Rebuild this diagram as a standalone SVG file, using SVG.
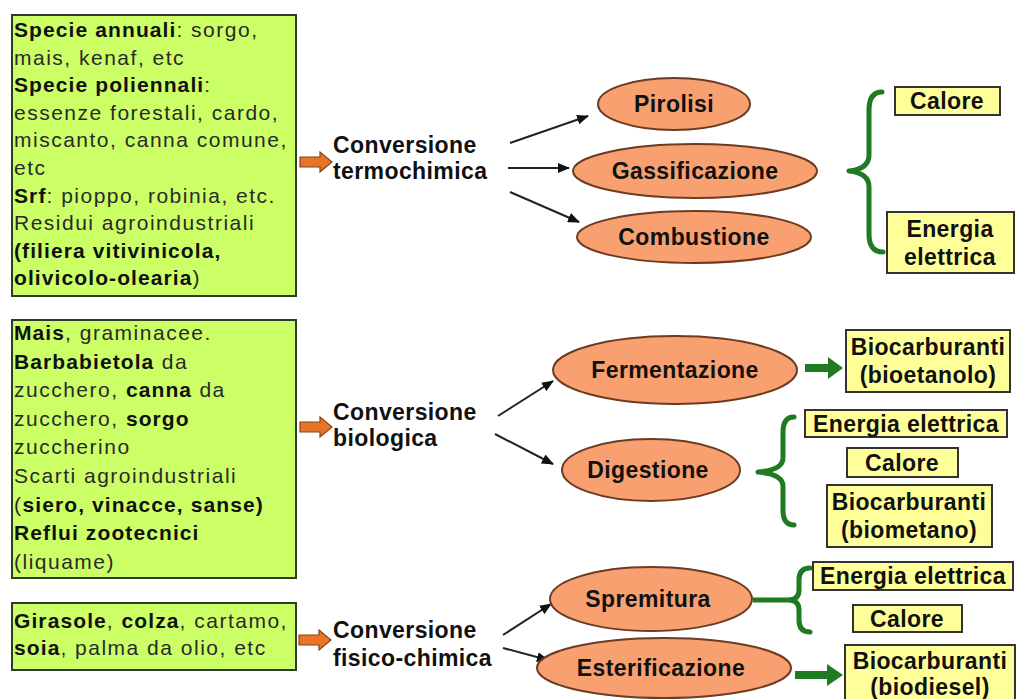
<svg xmlns="http://www.w3.org/2000/svg" width="1019" height="699" viewBox="0 0 1019 699">
<defs>
<style>
.src{fill:#ccff66;stroke:#2f3a2a;stroke-width:2}
.st{font-family:"Liberation Sans",Arial,sans-serif;font-size:21px;fill:#2a2a2a;letter-spacing:1.5px}
.st .b{font-weight:bold;fill:#111;letter-spacing:1.1px}
.lbl{font-family:"Liberation Sans",Arial,sans-serif;font-size:23px;font-weight:bold;fill:#111;letter-spacing:0.4px}
.mid{text-anchor:middle}
.ell{fill:#f8a070;stroke:#6b3b22;stroke-width:2}
.out{fill:#ffff99;stroke:#333;stroke-width:2}
.brace{fill:none;stroke:#1f7a22;stroke-width:5;stroke-linecap:round;stroke-linejoin:round}
.garr{fill:#1f7a22}
.oarr{fill:#e8742a;stroke:#8a4215;stroke-width:1.2}
.conn{stroke:#222;stroke-width:2;fill:none;marker-end:url(#ah)}
</style>
<marker id="ah" viewBox="0 0 12 10" refX="11" refY="5" markerWidth="12" markerHeight="10" markerUnits="userSpaceOnUse" orient="auto">
<path d="M0,0 L12,5 L0,10 z" fill="#111"/>
</marker>
</defs>
<rect width="1019" height="699" fill="#fff"/>

<g id="connectors">
<polygon class="oarr" points="300,157 320,157 320,152 332,162 320,172 320,167 300,167"/>
<polygon class="oarr" points="300,422 320,422 320,417 332,427 320,437 320,432 300,432"/>
<polygon class="oarr" points="299,635 319,635 319,630 331,640 319,650 319,645 299,645"/>
<line class="conn" x1="510" y1="143" x2="588" y2="116"/>
<line class="conn" x1="508" y1="168" x2="569" y2="168"/>
<line class="conn" x1="510" y1="192" x2="579" y2="222"/>
<line class="conn" x1="498" y1="416" x2="553" y2="381"/>
<line class="conn" x1="495" y1="434" x2="553" y2="464"/>
<line class="conn" x1="503" y1="635" x2="551" y2="604"/>
<line class="conn" x1="503" y1="648" x2="548" y2="660"/>
<path class="brace" d="M882,92 Q869,92 869,110 L869,155 Q869,169 849,171 Q869,173 869,187 L869,234 Q869,252 883,252"/>
<path class="brace" d="M794,417 Q783,417 783,432 L783,458 Q783,470 758,472 Q783,474 783,486 L783,510 Q783,525 794,525"/>
<line x1="753" y1="600" x2="792" y2="600" stroke="#1f7a22" stroke-width="5"/>
<path class="brace" d="M810,568 Q799,568 799,580 L799,590 Q799,599 790,600 Q799,601 799,610 L799,620 Q799,632 810,632"/>
<polygon class="garr" points="805,364 828,364 828,357 843,368 828,379 828,372 805,372"/>
<polygon class="garr" points="795,671 827,671 827,664 843,675 827,686 827,679 795,679"/>
</g>

<g id="src-termo">
<rect class="src" x="12" y="15" width="284" height="281"/>
<text class="st" x="14" y="37"><tspan class="b">Specie annuali</tspan>: sorgo,</text>
<text class="st" x="14" y="64.6">mais, kenaf, etc</text>
<text class="st" x="14" y="92.2"><tspan class="b">Specie poliennali</tspan>:</text>
<text class="st" x="14" y="119.8">essenze forestali, cardo,</text>
<text class="st" x="14" y="147.4">miscanto, canna comune,</text>
<text class="st" x="14" y="175">etc</text>
<text class="st" x="14" y="202.6"><tspan class="b">Srf</tspan>: pioppo, robinia, etc.</text>
<text class="st" x="14" y="230.2">Residui agroindustriali</text>
<text class="st" x="14" y="257.8"><tspan class="b">(filiera vitivinicola,</tspan></text>
<text class="st" x="14" y="285.4"><tspan class="b">olivicolo-olearia</tspan>)</text>
</g>

<g id="src-bio">
<rect class="src" x="12" y="320" width="284" height="258"/>
<text class="st" x="14" y="340"><tspan class="b">Mais</tspan>, graminacee.</text>
<text class="st" x="14" y="368.6"><tspan class="b">Barbabietola</tspan> da</text>
<text class="st" x="14" y="397.2">zucchero, <tspan class="b">canna</tspan> da</text>
<text class="st" x="14" y="425.8">zucchero, <tspan class="b">sorgo</tspan></text>
<text class="st" x="14" y="454.4">zuccherino</text>
<text class="st" x="14" y="483">Scarti agroindustriali</text>
<text class="st" x="14" y="511.6">(<tspan class="b">siero, vinacce, sanse)</tspan></text>
<text class="st" x="14" y="540.2"><tspan class="b">Reflui zootecnici</tspan></text>
<text class="st" x="14" y="568.8">(liquame)</text>
</g>

<g id="src-fisico">
<rect class="src" x="12" y="603" width="284" height="67"/>
<text class="st" x="14" y="628"><tspan class="b">Girasole</tspan>, <tspan class="b">colza</tspan>, cartamo,</text>
<text class="st" x="14" y="655"><tspan class="b">soia</tspan>, palma da olio, etc</text>
</g>

<g id="conv-termo">
<text class="lbl" x="333" y="153">Conversione</text>
<text class="lbl" x="333" y="179">termochimica</text>
</g>
<g id="conv-bio">
<text class="lbl" x="333" y="420">Conversione</text>
<text class="lbl" x="333" y="446">biologica</text>
</g>
<g id="conv-fisico">
<text class="lbl" x="333" y="638">Conversione</text>
<text class="lbl" x="333" y="666">fisico-chimica</text>
</g>

<g id="pirolisi"><ellipse class="ell" cx="674" cy="104" rx="76" ry="26"/><text class="lbl mid" x="674" y="112">Pirolisi</text></g>
<g id="gassificazione"><ellipse class="ell" cx="695" cy="171" rx="122" ry="27"/><text class="lbl mid" x="695" y="179">Gassificazione</text></g>
<g id="combustione"><ellipse class="ell" cx="694" cy="237" rx="117" ry="26"/><text class="lbl mid" x="694" y="245">Combustione</text></g>
<g id="fermentazione"><ellipse class="ell" cx="675" cy="370" rx="122" ry="34"/><text class="lbl mid" x="675" y="378">Fermentazione</text></g>
<g id="digestione"><ellipse class="ell" cx="651" cy="470" rx="89" ry="31"/><text class="lbl mid" x="648" y="478">Digestione</text></g>
<g id="spremitura"><ellipse class="ell" cx="651" cy="599" rx="101" ry="32"/><text class="lbl mid" x="648" y="607">Spremitura</text></g>
<g id="esterificazione"><ellipse class="ell" cx="664" cy="668" rx="127" ry="30"/><text class="lbl mid" x="661" y="676">Esterificazione</text></g>

<g id="out-calore-1"><rect class="out" x="895" y="87" width="105" height="28"/><text class="lbl mid" x="947" y="109">Calore</text></g>
<g id="out-energia-1"><rect class="out" x="887" y="212" width="127" height="61"/><text class="lbl mid" x="950" y="237">Energia</text><text class="lbl mid" x="950" y="265">elettrica</text></g>
<g id="out-bioetanolo"><rect class="out" x="846" y="330" width="164" height="62"/><text class="lbl mid" x="928" y="355">Biocarburanti</text><text class="lbl mid" x="928" y="383">(bioetanolo)</text></g>
<g id="out-energia-2"><rect class="out" x="805" y="410" width="202" height="27"/><text class="lbl mid" x="906" y="432">Energia elettrica</text></g>
<g id="out-calore-2"><rect class="out" x="847" y="448" width="111" height="29"/><text class="lbl mid" x="902" y="471">Calore</text></g>
<g id="out-biometano"><rect class="out" x="827" y="485" width="165" height="62"/><text class="lbl mid" x="909" y="510">Biocarburanti</text><text class="lbl mid" x="909" y="538">(biometano)</text></g>
<g id="out-energia-3"><rect class="out" x="813" y="562" width="200" height="28"/><text class="lbl mid" x="913" y="584">Energia elettrica</text></g>
<g id="out-calore-3"><rect class="out" x="853" y="605" width="109" height="27"/><text class="lbl mid" x="907" y="627">Calore</text></g>
<g id="out-biodiesel"><rect class="out" x="845" y="645" width="170" height="60"/><text class="lbl mid" x="930" y="669">Biocarburanti</text><text class="lbl mid" x="930" y="695">(biodiesel)</text></g>
</svg>
